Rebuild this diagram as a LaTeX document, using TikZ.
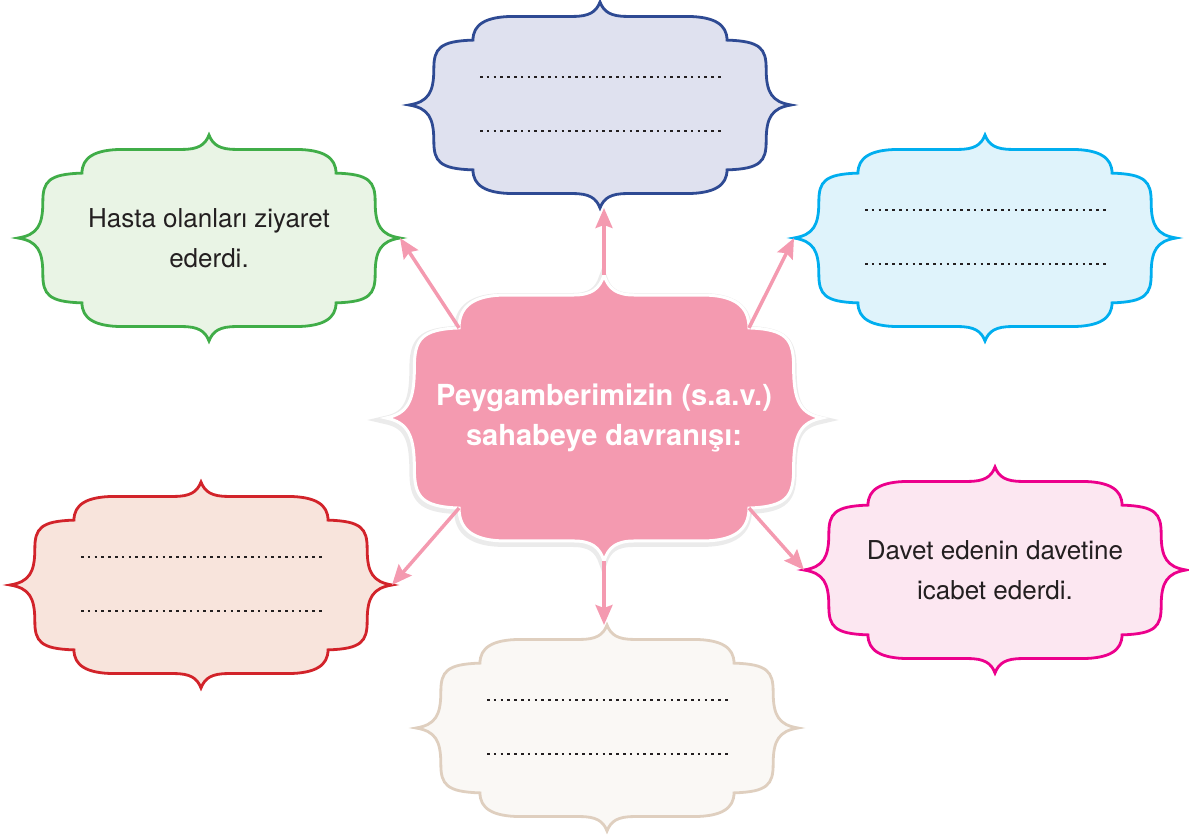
\documentclass[tikz,border=0pt]{standalone}
\usepackage{fontspec}
\setmainfont{TeX Gyre Heros}
\usetikzlibrary{arrows.meta}
\definecolor{navyline}{HTML}{2E4A93}
\definecolor{navyfill}{HTML}{DFE1EF}
\definecolor{greenline}{HTML}{40AD48}
\definecolor{greenfill}{HTML}{E9F4E5}
\definecolor{skyline}{HTML}{00AEEF}
\definecolor{skyfill}{HTML}{DFF3FB}
\definecolor{redline}{HTML}{D2232A}
\definecolor{redfill}{HTML}{F8E4DC}
\definecolor{magline}{HTML}{EC008C}
\definecolor{magfill}{HTML}{FCE7F1}
\definecolor{beigeline}{HTML}{DFCFBF}
\definecolor{beigefill}{HTML}{FAF8F5}
\definecolor{pinkfill}{HTML}{F49AB0}
\definecolor{textgray}{HTML}{231F20}
\tikzset{
  framelw/.style={line width=2.8pt},
  frame/.pic={
    \path[pic actions, framelw] (0,1) .. controls (-0.02,0.9) and (-0.06,0.86) .. (-0.14,0.86) -- (-0.45,0.86)
      .. controls (-0.6,0.86) and (-0.665,0.78) .. (-0.665,0.63)
      .. controls (-0.84,0.62) and (-0.87,0.55) .. (-0.87,0.35)
      .. controls (-0.87,0.12) and (-0.9,0.03) .. (-1,0)
      .. controls (-0.9,-0.03) and (-0.87,-0.12) .. (-0.87,-0.35)
      .. controls (-0.87,-0.55) and (-0.84,-0.62) .. (-0.665,-0.63)
      .. controls (-0.665,-0.78) and (-0.6,-0.86) .. (-0.45,-0.86) -- (-0.14,-0.86)
      .. controls (-0.06,-0.86) and (-0.02,-0.9) .. (0,-1)
      .. controls (0.02,-0.9) and (0.06,-0.86) .. (0.14,-0.86) -- (0.45,-0.86)
      .. controls (0.6,-0.86) and (0.665,-0.78) .. (0.665,-0.63)
      .. controls (0.84,-0.62) and (0.87,-0.55) .. (0.87,-0.35)
      .. controls (0.87,-0.12) and (0.9,-0.03) .. (1,0)
      .. controls (0.9,0.03) and (0.87,0.12) .. (0.87,0.35)
      .. controls (0.87,0.55) and (0.84,0.62) .. (0.665,0.63)
      .. controls (0.665,0.78) and (0.6,0.86) .. (0.45,0.86) -- (0.14,0.86)
      .. controls (0.06,0.86) and (0.02,0.9) .. (0,1) -- cycle;
    \coordinate (-c) at (0,0);
    \coordinate (-n) at (0,1);
    \coordinate (-s) at (0,-1);
    \coordinate (-w) at (-1,0);
    \coordinate (-e) at (1,0);
    \coordinate (-nw) at (-0.665,0.63);
    \coordinate (-ne) at (0.665,0.63);
    \coordinate (-sw) at (-0.665,-0.63);
    \coordinate (-se) at (0.665,-0.63);
  },
  box/.style={xscale=191, yscale=103},
  midbox/.style={xscale=218, yscale=143},
  arr/.style={line width=3.5pt, pinkfill, -{Stealth[length=20pt,width=17pt,inset=3pt]}},
  dots/.style={line width=2.8pt, textgray, dash pattern=on 2.6pt off 4.2pt},
  txt/.style={text=textgray, align=center, font=\fontsize{26}{40}\selectfont}
}
\begin{document}
\begin{tikzpicture}[x=1pt, y=1pt]
  \useasboundingbox (0,0) rectangle (1189,836);

  \pic[box, draw=navyline, fill=navyfill] (navy) at (600,731) {frame};
  \pic[box, draw=greenline, fill=greenfill] (green) at (209,598) {frame};
  \pic[box, draw=skyline, fill=skyfill] (sky) at (985,598) {frame};
  \pic[box, draw=redline, fill=redfill] (red) at (201,251) {frame};
  \pic[box, draw=magline, fill=magfill] (mag) at (995,266) {frame};
  \pic[box, draw=beigeline, fill=beigefill] (beige) at (607,108) {frame};

  \foreach \b in {navy,sky,red,beige} {
    \draw[dots] (\b-c) ++(-120,28) -- ++(243,0);
    \draw[dots] (\b-c) ++(-120,-26) -- ++(243,0);
  }

  \node[txt] (hasta) at (green-c) {Hasta olanları ziyaret\\ederdi.};
  \node[txt] (davet) at (mag-c) {Davet edenin davetine\\icabet ederdi.};

  \pic[midbox, draw=black!8, framelw/.style={line width=8pt}] (shadow) at (603,416) {frame};
  \pic[midbox, draw=white, fill=pinkfill, framelw/.style={line width=3pt}] (mid) at (604,418) {frame};

  \draw[arr] (mid-n) -- (mid-n |- navy-s);
  \draw[arr] (mid-nw) -- (green-e);
  \draw[arr] (mid-ne) -- (sky-w);
  \draw[arr] (mid-sw) -- (red-e);
  \draw[arr] (mid-se) -- (mag-w);
  \draw[arr] (mid-s) -- (mid-s |- beige-n);

  \node[text=white, align=center, font=\bfseries\fontsize{29}{40}\selectfont] (title) at (mid-c)
    {Peygamberimizin (s.a.v.)\\sahabeye davranışı:};
\end{tikzpicture}
\end{document}
